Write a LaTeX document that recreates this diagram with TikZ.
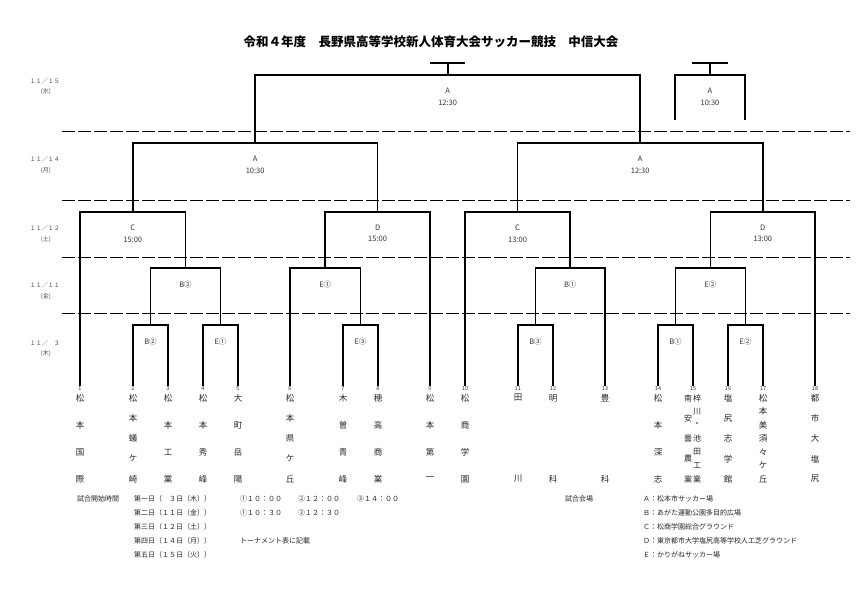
\documentclass[tikz,border=0pt]{standalone}
\usepackage{fontspec}
\setmainfont{Noto Sans CJK JP}
\begin{document}
\begin{tikzpicture}[x=1pt,y=-1pt,
  bline/.style={line width=1.7pt, line join=miter},
  sepline/.style={line width=0.8pt, dash pattern=on 13pt off 3pt},
  num/.style={font=\fontsize{5.5}{6}\selectfont, inner sep=1pt, text=black!80},
  mlab/.style={font=\fontsize{7.5}{11.5}\selectfont, align=center, text=black!80, inner sep=0pt},
  tchar/.style={font=\fontsize{8.5}{9}\selectfont, inner sep=0pt, text=black!85},
  tcharsm/.style={font=\fontsize{8}{9}\selectfont, inner sep=0pt, text=black!85},
  dlab/.style={font=\fontsize{6}{7}\selectfont, text=black!70, inner sep=0pt},
  leg/.style={font=\fontsize{7}{8}\selectfont, anchor=west, inner sep=0pt, text=black!85},
  legr/.style={font=\fontsize{7}{8}\selectfont, anchor=west, inner sep=0pt, text=black!85}]
\fill[white] (0,0) rectangle (863,597);
\useasboundingbox (0,0) rectangle (863,597);
\newcommand\tname[5][tchar]{\foreach \ch [count=\k from 0] in {#5}{\node[#1] (#2-\k) at (#3,{398+\k*81/(#4-1)}) {\ch};}}
% title
\node[font=\fontsize{12.5}{14}\selectfont\bfseries, inner sep=0pt] (title) at (431,42) {令和４年度　長野県高等学校新人体育大会サッカー競技　中信大会};
% separators
\foreach \yy in {131,200,257,313} \draw[sepline] (62,\yy) -- (850,\yy);
% dates
\node[dlab] (d15) at (45,81) {１１／１５}; \node[dlab] (w15) at (46,92) {(水)};
\node[dlab] (d14) at (45,159) {１１／１４}; \node[dlab] (w14) at (46,171) {(月)};
\node[dlab] (d12) at (45,228) {１１／１２}; \node[dlab] (w12) at (46,240) {(土)};
\node[dlab] (d11) at (45,285) {１１／１１}; \node[dlab] (w11) at (46,297) {(金)};
\node[dlab] (d03) at (45,343) {１１／　３}; \node[dlab] (w03) at (46,354) {(木)};
% numbers
\foreach \i/\xx in {1/80,2/133,3/168,4/203,5/238,6/290,7/343,8/378,9/430,10/465,11/518,12/553,13/605,14/658,15/693,16/728,17/763,18/815}
  \node[num] (n\i) at (\xx,389) {\i};
% match coordinates
\coordinate (a1) at (150.5,325); \coordinate (a2) at (220.5,325); \coordinate (a3) at (360.5,325);
\coordinate (a4) at (535.5,325); \coordinate (a5) at (675.5,325); \coordinate (a6) at (745.5,325);
\coordinate (b1) at (185.5,268); \coordinate (b2) at (325.25,268); \coordinate (b3) at (570.25,268); \coordinate (b4) at (710.5,268);
\coordinate (c1) at (132.75,212); \coordinate (c2) at (377.6,212); \coordinate (c3) at (517.6,212); \coordinate (c4) at (762.75,212);
\coordinate (d1) at (255.2,143); \coordinate (d2) at (640.2,143);
\coordinate (e1) at (447.7,75); \coordinate (e1t) at (447.7,63); \coordinate (e1l) at (430,63); \coordinate (e1r) at (465,63);
\coordinate (f1) at (710,75); \coordinate (f1t) at (710,63); \coordinate (f1sl) at (692,63); \coordinate (f1sr) at (728,63);
\coordinate (f1l) at (675,120); \coordinate (f1r) at (745,120);
% round 1
\draw[bline] (n2.north) |- (a1) -| (n3.north);
\draw[bline] (n4.north) |- (a2) -| (n5.north);
\draw[bline] (n7.north) |- (a3) -| (n8.north);
\draw[bline] (n11.north) |- (a4) -| (n12.north);
\draw[bline] (n14.north) |- (a5) -| (n15.north);
\draw[bline] (n16.north) |- (a6) -| (n17.north);
% round 2
\draw[bline] (a1) |- (b1) -| (a2);
\draw[bline] (n6.north) |- (b2) -| (a3);
\draw[bline] (a4) |- (b3) -| (n13.north);
\draw[bline] (a5) |- (b4) -| (a6);
% round 3
\draw[bline] (n1.north) |- (c1) -| (b1);
\draw[bline] (b2) |- (c2) -| (n9.north);
\draw[bline] (n10.north) |- (c3) -| (b3);
\draw[bline] (b4) |- (c4) -| (n18.north);
% round 4
\draw[bline] (c1) |- (d1) -| (c2);
\draw[bline] (c3) |- (d2) -| (c4);
% final
\draw[bline] (d1) |- (e1) -| (d2);
\draw[bline] (e1) -- (e1t);
\draw[bline] (e1l) -- (e1r);
% third place
\draw[bline] (f1l) |- (f1) -| (f1r);
\draw[bline] (f1) -- (f1t);
\draw[bline] (f1sl) -- (f1sr);
% match labels
\node[mlab] (la1) at (150.5,342) {B②}; \node[mlab] (la2) at (220.5,342) {E①};
\node[mlab] (la3) at (360.5,342) {E③}; \node[mlab] (la4) at (535.5,342) {B③};
\node[mlab] (la5) at (675.5,342) {B①}; \node[mlab] (la6) at (745.5,342) {E②};
\node[mlab] (lb1) at (185.5,285) {B②}; \node[mlab] (lb2) at (325.25,285) {E①};
\node[mlab] (lb3) at (570.25,285) {B①}; \node[mlab] (lb4) at (710.5,285) {E②};
\node[mlab] (lc1) at (132.75,233.5) {C\\15:00}; \node[mlab] (lc2) at (377.6,233.5) {D\\15:00};
\node[mlab] (lc3) at (517.6,233.5) {C\\13:00}; \node[mlab] (lc4) at (762.75,233.5) {D\\13:00};
\node[mlab] (ld1) at (255.2,165) {A\\10:30}; \node[mlab] (ld2) at (640.2,165) {A\\12:30};
\node[mlab] (le1) at (447.7,97) {A\\12:30}; \node[mlab] (lf1) at (710,97) {A\\10:30};
% team names
\tname{t1}{80}{4}{松,本,国,際}
\tname{t2}{133}{5}{松,本,蟻,ケ,崎}
\tname{t3}{168}{4}{松,本,工,業}
\tname{t4}{203}{4}{松,本,秀,峰}
\tname{t5}{238}{4}{大,町,岳,陽}
\tname{t6}{290}{5}{松,本,県,ケ,丘}
\tname{t7}{343}{4}{木,曽,青,峰}
\tname{t8}{378}{4}{穂,高,商,業}
\tname{t9}{430}{4}{松,本,第,一}
\tname{t10}{465}{4}{松,商,学,園}
\tname{t11}{518}{2}{田,川}
\tname{t12}{553}{2}{明,科}
\tname{t13}{605}{2}{豊,科}
\tname{t14}{658}{4}{松,本,深,志}
\tname[tcharsm]{t15a}{688}{5}{南,安,曇,農,業}
\tname[tcharsm]{t15b}{697}{7}{梓,川,・,池,田,工,業}
\tname{t16}{728}{5}{塩,尻,志,学,館}
\tname{t17}{763}{7}{松,本,美,須,々,ケ,丘}
\tname{t18}{815}{5}{都,市,大,塩,尻}
% legend left
\node[leg] (g0) at (77,499) {試合開始時間};
\node[leg] (g1) at (134,499) {第一日（　３日（木））};
\node[leg] (g2) at (134,513) {第二日（１１日（金））};
\node[leg] (g3) at (134,527) {第三日（１２日（土））};
\node[leg] (g4) at (134,541) {第四日（１４日（月））};
\node[leg] (g5) at (134,555) {第五日（１５日（火））};
\node[leg] (h1) at (240,499) {①１０：００};
\node[leg] (h2) at (298,499) {②１２：００};
\node[leg] (h3) at (357,499) {③１４：００};
\node[leg] (h4) at (240,513) {①１０：３０};
\node[leg] (h5) at (298,513) {②１２：３０};
\node[leg] (h6) at (240,541) {トーナメント表に記載};
% legend right
\node[legr] (v0) at (565,499) {試合会場};
\node[legr] (v1) at (643,499) {Ａ：松本市サッカー場};
\node[legr] (v2) at (643,513) {Ｂ：あがた運動公園多目的広場};
\node[legr] (v3) at (643,527) {Ｃ：松商学園総合グラウンド};
\node[legr] (v4) at (643,541) {Ｄ：東京都市大学塩尻高等学校人工芝グラウンド};
\node[legr] (v5) at (643,555) {Ｅ：かりがねサッカー場};
\end{tikzpicture}
\end{document}
